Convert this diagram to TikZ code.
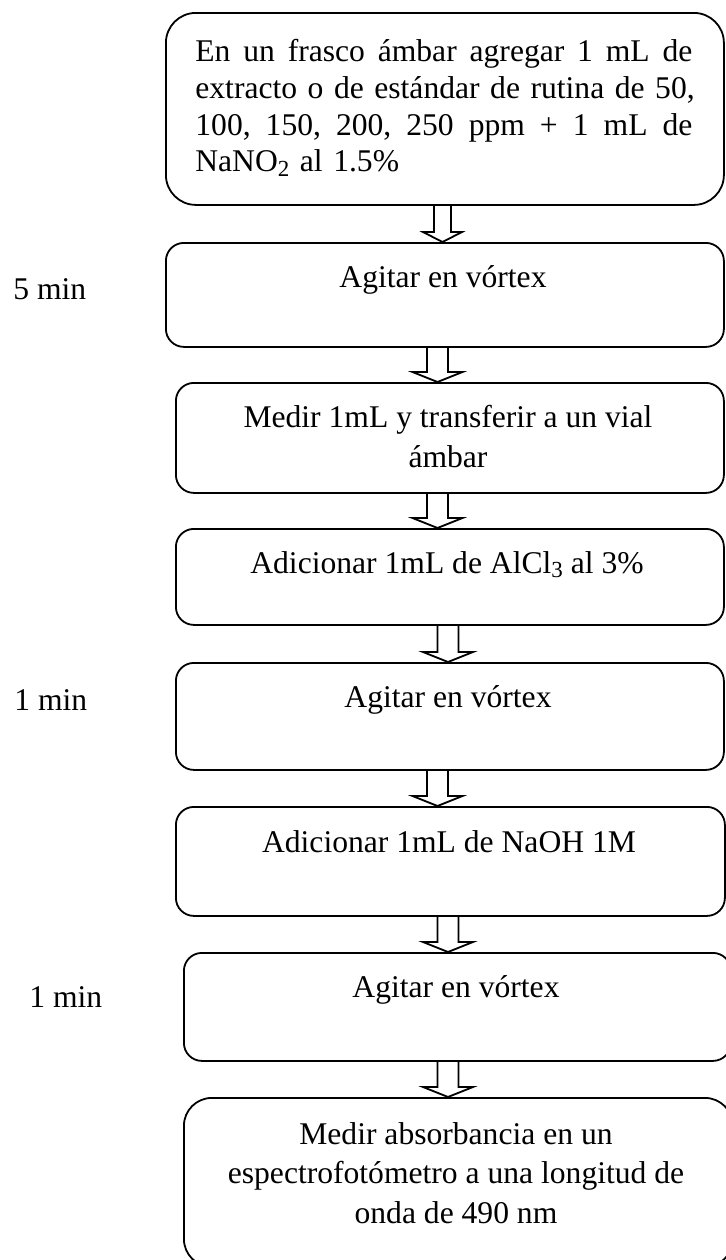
\documentclass[tikz,border=0pt]{standalone}
\usepackage{fontspec}
\setmainfont{Liberation Serif}
\usetikzlibrary{calc}
\tikzset{
  box/.style={draw, line width=0.9pt, inner sep=0pt, anchor=north west},
  txt/.style={inner sep=0pt, font=\fontsize{15.8pt}{20pt}\selectfont},
  arr/.style={draw, line width=0.9pt, line join=miter},
}
\newcommand{\flowarrow}[5]{%
  \draw[arr] ($(#1.south -| #3)+(-#4,0)$) -- ($(#2.north -| #3)+(-#4,-10)$)
    -- ($(#2.north -| #3)+(-#5,-10)$) -- (#2.north -| #3)
    -- ($(#2.north -| #3)+(#5,-10)$) -- ($(#2.north -| #3)+(#4,-10)$)
    -- ($(#1.south -| #3)+(#4,0)$);}
\newcommand{\fullline}[1]{\hbox to 248.5pt{#1}}
\newcommand{\chemsub}[1]{\raisebox{-0.3ex}{\fontsize{11.5pt}{11.5pt}\selectfont #1}}
\begin{document}
\begin{tikzpicture}[x=0.5pt,y=-0.5pt]
\fill[white] (0,0) rectangle (725,1260);
\useasboundingbox (0,0) rectangle (725,1260);
% boxes
\node[box, rounded corners=15pt, minimum width=279pt, minimum height=96pt] (b1) at (165,12) {};
\node[box, rounded corners=9pt, minimum width=279pt, minimum height=52pt] (b2) at (165,242) {};
\node[box, rounded corners=9pt, minimum width=274pt, minimum height=55pt] (b3) at (175,382) {};
\node[box, rounded corners=9pt, minimum width=274pt, minimum height=48pt] (b4) at (175,528) {};
\node[box, rounded corners=9pt, minimum width=274pt, minimum height=53.5pt] (b5) at (175,662) {};
\node[box, rounded corners=9pt, minimum width=274.5pt, minimum height=54.5pt] (b6) at (175,806) {};
\node[box, rounded corners=9pt, minimum width=273.5pt, minimum height=54pt] (b7) at (183,952) {};
\node[box, rounded corners=14pt, minimum width=274.5pt, minimum height=84.5pt] (b8) at (183,1097) {};
% texts
\node[txt, anchor=base west, text width=248.5pt, font=\fontsize{15.8pt}{18.35pt}\selectfont] (t1) at (195,61.7)
  {\fullline{En \hfill un \hfill frasco \hfill ámbar \hfill agregar \hfill 1 \hfill mL \hfill de}
   \fullline{extracto \hfill o \hfill de \hfill estándar \hfill de \hfill rutina \hfill de \hfill 50,}
   \fullline{100, \hfill 150, \hfill 200, \hfill 250 \hfill ppm \hfill + \hfill 1 \hfill mL \hfill de}
   \hbox{NaNO\chemsub{2} al 1.5\%}};
\node[txt, anchor=base] (t2) at (443,287) {Agitar en vórtex};
\node[txt, anchor=base, align=center] (t3) at (448,467) {Medir 1mL y transferir a un vial\\ámbar};
\node[txt, anchor=base] (t4) at (447,573) {Adicionar 1mL de AlCl\chemsub{3} al 3\%};
\node[txt, anchor=base] (t5) at (448,707) {Agitar en vórtex};
\node[txt, anchor=base] (t6) at (449,852) {Adicionar 1mL de NaOH 1M};
\node[txt, anchor=base] (t7) at (456,997) {Agitar en vórtex};
\node[txt, anchor=base, align=center, font=\fontsize{15.8pt}{19.75pt}\selectfont] (t8) at (456,1223)
  {Medir absorbancia en un\\espectrofotómetro a una longitud de\\onda de 490 nm};
% side labels
\node[txt, anchor=base west] (l1) at (13,299) {5 min};
\node[txt, anchor=base west] (l2) at (14,710) {1 min};
\node[txt, anchor=base west] (l3) at (29,1007) {1 min};
% arrow x positions
\coordinate (x1) at (442.5,0);
\coordinate (x2) at (437.5,0);
\coordinate (x3) at (437.5,0);
\coordinate (x4) at (448,0);
\coordinate (x5) at (437.5,0);
\coordinate (x6) at (448,0);
\coordinate (x7) at (448,0);
\flowarrow{b1}{b2}{x1}{8.5}{19.5}
\flowarrow{b2}{b3}{x2}{10.5}{25}
\flowarrow{b3}{b4}{x3}{10.5}{25}
\flowarrow{b4}{b5}{x4}{10.5}{25}
\flowarrow{b5}{b6}{x5}{10.5}{25}
\flowarrow{b6}{b7}{x6}{10.5}{25}
\flowarrow{b7}{b8}{x7}{10.5}{25}
\end{tikzpicture}
\end{document}
